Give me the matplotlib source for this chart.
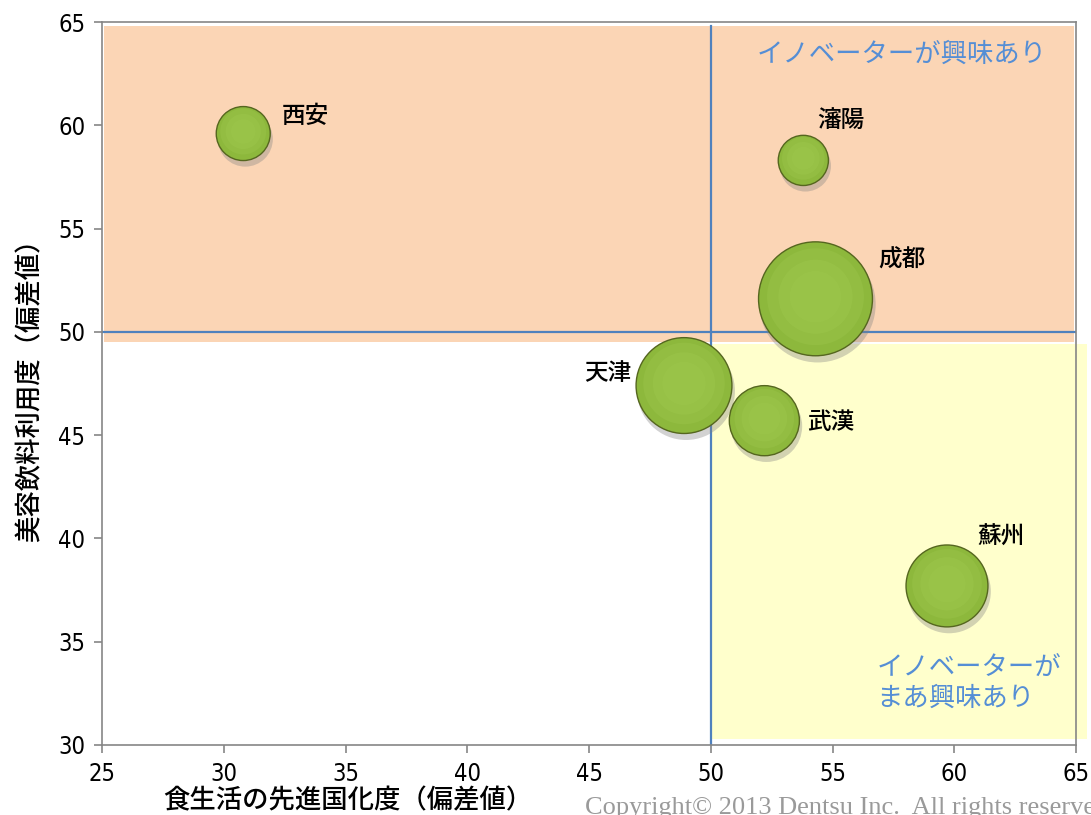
import numpy as np
import matplotlib
matplotlib.use('Agg')
import matplotlib.pyplot as plt
from matplotlib.patches import Rectangle
import matplotlib.transforms as mtransforms

plt.rcParams['font.family'] = ['Noto Sans CJK JP', 'DejaVu Sans']

# data
cities = ['西安', '瀋陽', '成都', '天津', '武漢', '蘇州']
x_vals = [30.8, 53.8, 54.3, 48.9, 52.2, 59.7]
y_vals = [59.6, 58.3, 51.6, 47.4, 45.7, 37.7]
bubble = [7.3, 6.3, 32.5, 23.0, 12.3, 16.8]
x_ticks = [25, 30, 35, 40, 45, 50, 55, 60, 65]
y_ticks = [30, 35, 40, 45, 50, 55, 60, 65]

# label placement (offset in points, alignment)
lab_off = [(28, 12, 'left'), (10, 29, 'left'), (45, 28, 'left'),
           (-38, 9, 'right'), (31, -1, 'left'), (22, 35, 'left')]

fig = plt.figure(figsize=(10.91, 8.15), dpi=100)
ax = fig.add_axes([0.0935, 0.0859, 0.8928, 0.8871])
ax.set_xlim(25, 65)
ax.set_ylim(30, 65)

# quadrant backgrounds
ax.add_patch(Rectangle((25.1, 49.5), 39.8, 15.3, facecolor='#FBD5B5',
                       edgecolor='none', zorder=0))
ax.add_patch(Rectangle((50.05, 30.3), 15.4, 19.1, facecolor='#FFFFCC',
                       edgecolor='none', zorder=0, clip_on=False))

ax.axvline(50, ymax=0.995, color='#4F81BD', lw=1.6, zorder=1)
ax.axhline(50, color='#4F81BD', lw=1.6, zorder=1)

s = np.array(bubble) * 207

# shadow
shadow_tr = mtransforms.offset_copy(ax.transData, fig=fig, x=1.5, y=-4, units='points')
ax.scatter(x_vals, y_vals, s=s * 1.04, color='#7f7f7f', alpha=0.35,
           edgecolors='none', transform=shadow_tr, zorder=2)
# main bubble
ax.scatter(x_vals, y_vals, s=s, color='#8DB83C', edgecolors='#55661F',
           linewidths=1.0, zorder=3)
# soft gradient, shifted a little upward
hl_tr = mtransforms.offset_copy(ax.transData, fig=fig, x=0, y=1.5, units='points')
for k, a in [(0.85, 0.25), (0.65, 0.25), (0.45, 0.2)]:
    ax.scatter(x_vals, y_vals, s=s * k * k, color='#A5CF55', alpha=a,
               edgecolors='none', transform=hl_tr, zorder=4)

for name, x, y, (dx, dy, ha) in zip(cities, x_vals, y_vals, lab_off):
    ax.annotate(name, (x, y), xytext=(dx, dy), textcoords='offset points',
                ha=ha, va='center', fontsize=17, fontweight='medium',
                color='black', zorder=5)

ax.text(0.97, 0.955, 'イノベーターが興味あり', transform=ax.transAxes,
        ha='right', va='center', fontsize=19, color='#558ED5')
ax.text(0.795, 0.085, 'イノベーターが\nまあ興味あり', transform=ax.transAxes,
        ha='left', va='center', fontsize=19, color='#558ED5', linespacing=1.15)

ax.set_xticks(x_ticks)
ax.set_yticks(y_ticks)
for lab in ax.get_xticklabels() + ax.get_yticklabels():
    lab.set_family(['DejaVu Sans'])
    lab.set_stretch('condensed')
    lab.set_fontsize(17)
ax.tick_params(direction='out', length=6, color='#868686', width=1.2, pad=6)
for sp in ax.spines.values():
    sp.set_color('#868686')
    sp.set_linewidth(1.2)

ax.set_xlabel('食生活の先進国化度（偏差値）', fontsize=19, fontweight='medium')
ax.xaxis.set_label_coords(0.252, -0.058)
ax.set_ylabel('美容飲料利用度（偏差値）', fontsize=19, fontweight='medium')
ax.yaxis.set_label_coords(-0.06, 0.5)

fig.text(0.536, 0.022, 'Copyright© 2013 Dentsu Inc.  All rights reserved.',
         ha='left', va='top', fontsize=19, color='#9a9a9a',
         family=['Liberation Serif', 'DejaVu Serif'])

fig.savefig('out.png', dpi=100)
